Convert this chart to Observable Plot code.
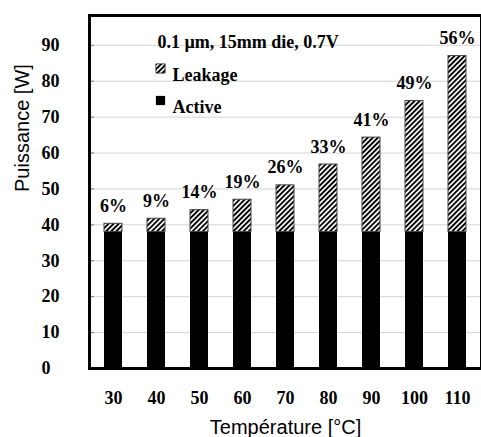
<!DOCTYPE html>
<html><head><meta charset="utf-8">
<script src="https://cdn.jsdelivr.net/npm/d3@7"></script>
<script src="https://cdn.jsdelivr.net/npm/@observablehq/plot@0.6"></script>
<style>body{margin:0;background:#fff;} #chart svg{display:block;}</style>
</head><body><div id="chart"></div>
<script>
const temperatures = ["30", "40", "50", "60", "70", "80", "90", "100", "110"];
const activePower = [38, 38, 38, 38, 38, 38, 38, 38, 38];
const leakagePower = [2.3, 3.7, 6.1, 9.0, 13.0, 18.8, 26.3, 36.5, 49.0];
const leakageShare = ["6%", "9%", "14%", "19%", "26%", "33%", "41%", "49%", "56%"];
const yTicks = [0, 10, 20, 30, 40, 50, 60, 70, 80, 90];
const legendLabels = ["Leakage", "Active"];
const noteText = "0.1 \u00b5m, 15mm die, 0.7V";
const xTitle = "Temp\u00e9rature [\u00b0C]";
const yTitle = "Puissance [W]";

const rows = temperatures.map((t, i) => ({
  t, active: activePower[i], leak: leakagePower[i],
  total: activePower[i] + leakagePower[i], share: leakageShare[i]
}));
const serif = "'Liberation Serif', 'Times New Roman', serif";
const sans = "'Liberation Sans', Arial, sans-serif";

function boundaryTicks() {
  return Plot.text([0], {
    render: (index, scales, values, dims) => {
      const x = scales.x, y = scales.y;
      const step = x(temperatures[1]) - x(temperatures[0]);
      const g = d3.create("svg:g");
      const y0 = y(0);
      for (let i = 0; i < temperatures.length - 1; i++) {
        const xb = x(temperatures[i]) + step * (1 - 0.59) + step * 0.59 / 2;
        g.append("line").attr("x1", xb).attr("x2", xb)
          .attr("y1", y0).attr("y2", y0 - 5)
          .attr("stroke", "#888").attr("stroke-width", 1);
      }
      return g.node();
    }
  });
}

const svg = Plot.plot({
  width: 481,
  height: 437,
  marginLeft: 89,
  marginRight: 0,
  marginTop: 15,
  marginBottom: 69,
  style: {background: "#fff", overflow: "visible"},
  x: {domain: temperatures, paddingInner: 0.59, paddingOuter: 0.295, label: null},
  y: {domain: [0, 98.3], label: null},
  marks: [
    Plot.ruleY(yTicks.filter(d => d > 0), {y: d => d, stroke: "#d4d4d4", strokeWidth: 1}),
    Plot.axisY(yTicks.filter(d => d > 0), {tickSize: -5, tickFormat: () => "", stroke: "#777", label: null}),
    Plot.barY(rows, {x: "t", y1: 0, y2: "active", fill: "#000"}),
    Plot.barY(rows, {x: "t", y1: "active", y2: "total", fill: "url(#hatch)", stroke: "#444", strokeWidth: 1}),
    Plot.text(rows, {x: "t", y: "total", text: "share", lineAnchor: "bottom", dy: -12,
      fontFamily: serif, fontWeight: "bold", fontSize: 18, fill: "#000"}),
    Plot.axisX({tickSize: 0, tickPadding: 23, fontFamily: serif, fontWeight: "bold", fontSize: 18, label: null, fill: "#000"}),
    Plot.text(yTicks, {y: d => d, text: d => String(d), frameAnchor: "left", dx: -48, textAnchor: "start",
      fontFamily: serif, fontWeight: "bold", fontSize: 18, fill: "#000"}),
    boundaryTicks(),
    Plot.frame({stroke: "#000", strokeWidth: 3}),
    Plot.text([noteText], {frameAnchor: "top-left", dx: 68, dy: 20, textAnchor: "start",
      fontFamily: serif, fontWeight: "bold", fontSize: 18, fill: "#000"}),
    Plot.dot([legendLabels[0]], {frameAnchor: "top-left", dx: 71, dy: 53, symbol: "square", r: 5.2,
      fill: "url(#hatch)", stroke: "#222", strokeWidth: 0.8}),
    Plot.text([legendLabels[0]], {frameAnchor: "top-left", dx: 83, dy: 53, textAnchor: "start",
      fontFamily: serif, fontWeight: "bold", fontSize: 18, fill: "#000"}),
    Plot.dot([legendLabels[1]], {frameAnchor: "top-left", dx: 71, dy: 85, symbol: "square", r: 5.2, fill: "#000"}),
    Plot.text([legendLabels[1]], {frameAnchor: "top-left", dx: 83, dy: 85, textAnchor: "start",
      fontFamily: serif, fontWeight: "bold", fontSize: 18, fill: "#000"}),
    Plot.text([xTitle], {frameAnchor: "bottom", dy: 65, fontFamily: sans, fontSize: 20, fill: "#000"}),
    Plot.text([yTitle], {frameAnchor: "left", dx: -67, rotate: -90, fontFamily: sans, fontSize: 20, fill: "#000"})
  ]
});

const defs = d3.select(svg).insert("defs", ":first-child");
const pat = defs.append("pattern").attr("id", "hatch").attr("patternUnits", "userSpaceOnUse")
  .attr("width", 3.6).attr("height", 3.6).attr("patternTransform", "rotate(45)");
pat.append("rect").attr("width", 3.6).attr("height", 3.6).attr("fill", "#fff");
pat.append("rect").attr("width", 1.9).attr("height", 3.6).attr("fill", "#000");

document.getElementById("chart").appendChild(svg);
</script>
</body></html>
